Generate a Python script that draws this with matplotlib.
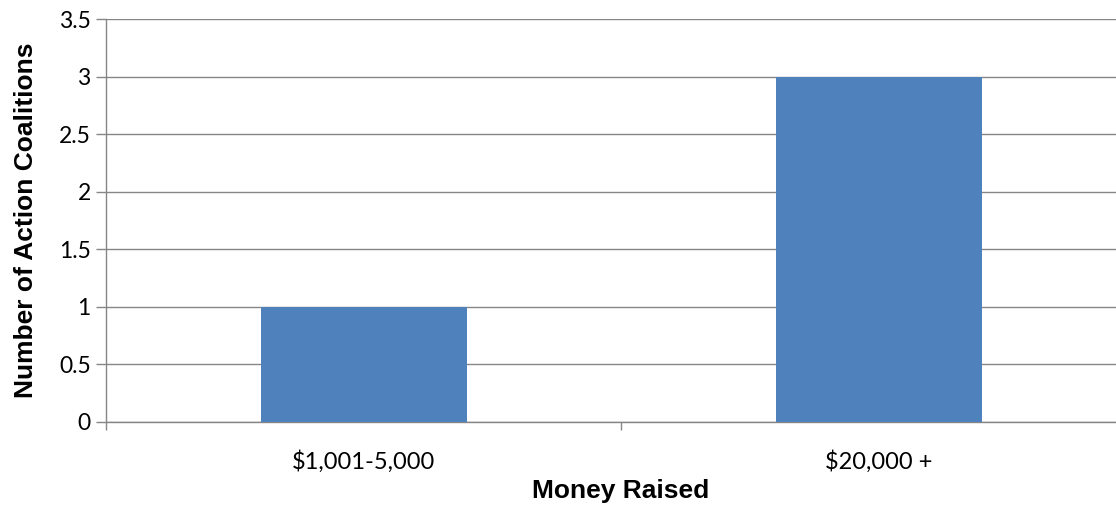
import matplotlib
matplotlib.use("Agg")
import matplotlib.pyplot as plt

categories = ["$1,001-5,000", "$20,000 +"]
counts = [1, 3]
y_ticks = [0, 0.5, 1, 1.5, 2, 2.5, 3, 3.5]

grey = "#868686"
bar_color = "#4F81BD"

fig = plt.figure(figsize=(11.16, 5.09), dpi=100)
# plot area runs a little past the right edge of the image, as in the original
ax = fig.add_axes([106 / 1116, 1 - 422 / 509, 1030 / 1116, (422 - 19) / 509])

x = list(range(len(categories)))
ax.bar(x, counts, width=0.4, color=bar_color, zorder=3)

ax.set_xlim(-0.5, len(categories) - 0.5)
ax.set_ylim(0, 3.5)
ax.set_yticks(y_ticks)
ax.set_yticklabels([f"{v:g}" for v in y_ticks], fontsize=16.5, family="Lato")
ax.yaxis.grid(True, color=grey, linewidth=1, zorder=0)

ax.set_xticks(x)
ax.set_xticklabels(categories, fontsize=17, family="Lato")
ax.tick_params(axis="x", which="major", length=0, pad=20)
ax.set_xticks([i - 0.5 for i in range(len(categories) + 1)], minor=True)
ax.tick_params(axis="x", which="minor", length=6, color=grey, width=1)
ax.tick_params(axis="y", length=7, color=grey, width=1, pad=4)

for side in ["top", "right"]:
    ax.spines[side].set_visible(False)
for side in ["left", "bottom"]:
    ax.spines[side].set_color(grey)
    ax.spines[side].set_linewidth(1)

ax.set_xlabel("Money Raised", fontsize=19, fontweight="bold", family="Liberation Sans", labelpad=5)
ax.set_ylabel("Number of Action Coalitions", fontsize=19, fontweight="bold", family="Liberation Sans", labelpad=15)

fig.savefig("out.png", dpi=100)
